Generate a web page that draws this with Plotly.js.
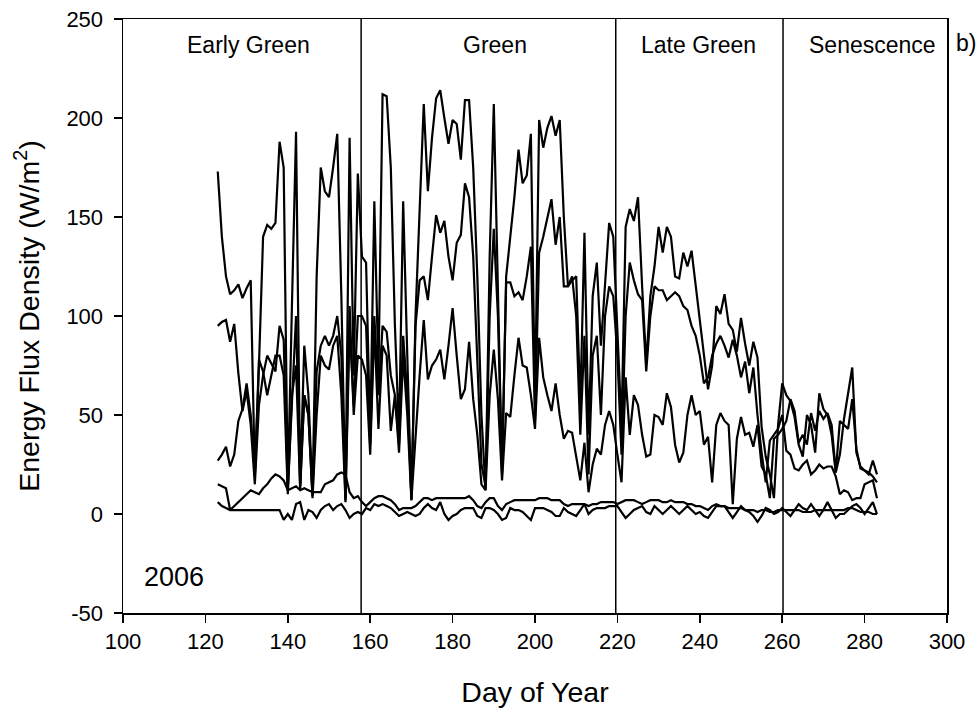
<!DOCTYPE html>
<html>
<head>
<meta charset="utf-8">
<script src="https://cdn.plot.ly/plotly-3.0.1.min.js"></script>
<style>html,body{margin:0;padding:0;background:#fff;}#chart{width:980px;height:713px;}</style>
</head>
<body>
<div id="chart"></div>
<script>
// Day of year (2006)
const days = [123,124,125,126,127,128,129,130,131,132,133,134,135,136,137,138,139,140,141,142,143,144,145,146,147,148,149,150,151,152,153,154,155,156,157,158,159,160,161,162,163,164,165,166,167,168,169,170,171,172,173,174,175,176,177,178,179,180,181,182,183,184,185,186,187,188,189,190,191,192,193,194,195,196,197,198,199,200,201,202,203,204,205,206,207,208,209,210,211,212,213,214,215,216,217,218,219,220,221,222,223,224,225,226,227,228,229,230,231,232,233,234,235,236,237,238,239,240,241,242,243,244,245,246,247,248,249,250,251,252,253,254,255,256,257,258,259,260,261,262,263,264,265,266,267,268,269,270,271,272,273,274,275,276,277,278,279,280,281,282,283];

// Net radiation (top series)
const rn = [173,140,120,111,113,116,109,114,118,19,75,140,146,144,147,188,175,12,105,193,15,85,60,10,120,175,163,160,175,192,110,8,190,70,172,130,127,40,158,70,212,211,175,95,40,158,80,7,100,150,207,163,190,210,214,200,187,199,197,179,209,209,175,120,50,12,130,207,120,20,120,140,160,184,167,171,192,55,199,185,195,201,191,199,150,115,118,120,55,142,40,110,127,85,115,147,140,90,45,145,154,148,160,115,76,110,125,145,132,145,140,120,119,132,125,133,115,96,80,63,75,105,101,111,96,93,82,99,86,75,87,79,44,29,20,8,45,66,60,57,49,35,29,50,45,31,61,53,50,40,21,30,48,60,74,31,24,22,20,27,20];

// Latent heat flux (second series)
const le = [95,97,98,87,96,71,52,62,45,15,55,70,80,76,72,95,88,12,60,100,14,60,50,9,72,85,90,85,90,100,80,7,95,55,100,100,95,35,100,60,95,92,70,60,35,90,60,8,95,118,120,108,130,151,142,148,130,118,137,141,167,160,130,80,25,14,100,144,100,22,117,117,110,112,108,120,135,48,132,140,150,159,136,150,115,115,120,100,40,90,20,80,90,50,100,115,110,80,30,100,127,118,111,108,72,100,115,113,113,108,110,112,110,105,103,95,90,80,66,69,80,86,90,85,79,88,80,69,77,61,74,50,31,16,37,40,43,50,32,30,23,22,25,27,20,22,25,23,24,24,19,10,12,11,7,8,8,15,16,17,8];

// Sensible heat flux (third series)
const sh = [27,30,34,24,30,47,53,66,50,20,78,72,60,70,80,80,70,10,60,75,12,60,50,8,50,80,75,73,85,90,60,6,105,50,80,78,70,30,95,43,85,80,42,60,31,80,50,7,40,70,98,68,75,78,83,68,85,104,80,58,63,87,58,40,15,12,60,83,58,17,51,49,70,89,75,74,60,43,89,69,60,52,66,50,38,42,41,30,17,36,11,25,33,30,45,52,45,30,16,69,40,60,55,40,29,30,50,49,45,61,54,35,26,31,50,60,50,52,35,39,16,45,51,47,45,5,38,49,40,41,34,45,24,20,8,38,40,43,47,58,52,36,40,35,51,42,52,48,51,45,21,47,45,43,58,33,23,22,21,19,16];

// Soil heat flux (near-zero, smooth)
const gf = [15,14,13,2,null,null,null,10,12,11,10,13,15,18,20,19,17,12,13,14,12,13,12,11,11,11,15,16,17,20,21,20,11,8,9,6,4,6,8,9,9,8,7,5,2,3,3,3,4,6,8,8,7,8,8,8,8,8,8,8,8,9,7,4,3,6,8,8,4,2,5,6,7,7,7,7,7,7,8,8,8,7,7,7,5,4,5,5,5,5,4,5,5,6,6,6,6,5,6,7,7,7,6,5,6,7,7,7,6,6,7,6,6,6,5,5,4,4,3,2,4,5,4,4,3,3,3,3,2,2,2,1,2,2,1,1,2,2,2,2,2,2,1,1,1,2,2,2,2,2,2,2,2,3,3,2,1,1,1,0,0];

// Storage / residual (near-zero, wavy)
const st = [6,4,3,2,null,null,null,null,null,null,null,null,null,null,null,2,-3,0,-3,5,6,-3,2,1,-2,2,4,5,2,4,5,2,-2,0,1,0,3,2,5,4,5,4,3,1,-1,0,1,0,-1,0,3,5,3,2,6,0,-3,-1,0,2,3,3,3,-1,-2,3,3,2,0,-3,-2,3,2,2,1,-1,-3,3,3,3,2,1,-1,-1,3,1,0,-1,2,5,0,2,3,3,3,4,4,4,1,-2,0,2,3,4,1,0,4,2,0,2,4,2,0,2,4,2,0,1,-1,-2,1,4,4,4,1,-2,1,4,2,1,-1,-4,-1,3,2,0,1,3,1,-1,2,5,3,2,5,2,-1,2,6,2,-2,0,0,2,4,5,3,0,3,6,0];

// Growth phase boundaries and labels
const phaseBounds = [157.8, 219.6, 260.2];
const phaseLabels = ["Early Green", "Green", "Late Green", "Senescence"];
const phaseLabelX = [130.5, 190.3, 239.8, 281.9];
const xTicks = [100,120,140,160,180,200,220,240,260,280,300];
const xTickText = ["100","120","140","160","180","200","220","240","260","280","300"];
const yTicks = [-50,0,50,100,150,200,250];
const yTickText = ["-50","0","50","100","150","200","250"];

const FONT = "Liberation Sans, Arial, Helvetica, sans-serif";
const series = [rn, le, sh, gf, st];
const traces = series.map(v => ({
  x: days, y: v, type: "scatter", mode: "lines", connectgaps: true,
  line: {color: "#000", width: 2.2}, hoverinfo: "skip", showlegend: false
}));

const annotations = phaseLabels.map((t, i) => ({
  x: phaseLabelX[i], y: 237, xref: "x", yref: "y", text: t, showarrow: false,
  font: {family: FONT, size: 23, color: "#000"}
}));
annotations.push({x: 112.3, y: -32, xref: "x", yref: "y", text: "2006", showarrow: false,
  font: {family: FONT, size: 27, color: "#000"}});
annotations.push({x: 1.0, y: 0.985, xref: "paper", yref: "paper", xanchor: "left", xshift: 7,
  text: "b)", showarrow: false, font: {family: FONT, size: 23, color: "#000"}});

const shapes = phaseBounds.map(d => ({
  type: "line", xref: "x", yref: "paper", x0: d, x1: d, y0: 0, y1: 1,
  line: {color: "#000", width: 1.5}
}));

const axisCommon = {
  showgrid: false, zeroline: false, showline: true, linecolor: "#000", linewidth: 1.5,
  mirror: true, ticks: "outside", ticklen: 8, tickwidth: 1.5, tickcolor: "#000",
  tickfont: {family: FONT, size: 22, color: "#000"}
};

const layout = {
  width: 980, height: 713,
  margin: {l: 123, r: 33, t: 19, b: 100},
  paper_bgcolor: "#fff", plot_bgcolor: "#fff",
  font: {family: FONT, color: "#000"},
  xaxis: Object.assign({}, axisCommon, {
    range: [100, 300], tickmode: "array", tickvals: xTicks, ticktext: xTickText,
    title: {text: "Day of Year", font: {family: FONT, size: 28.5, color: "#000"}, standoff: 29}
  }),
  yaxis: Object.assign({}, axisCommon, {
    range: [-50, 250], tickmode: "array", tickvals: yTicks, ticktext: yTickText,
    ticklabelstandoff: 6,
    title: {text: "Energy Flux Density (W/m<sup>2</sup>)", font: {family: FONT, size: 28.5, color: "#000"}, standoff: 18}
  }),
  annotations: annotations,
  shapes: shapes
};

Plotly.newPlot("chart", traces, layout, {displayModeBar: false, staticPlot: true});
</script>
</body>
</html>
